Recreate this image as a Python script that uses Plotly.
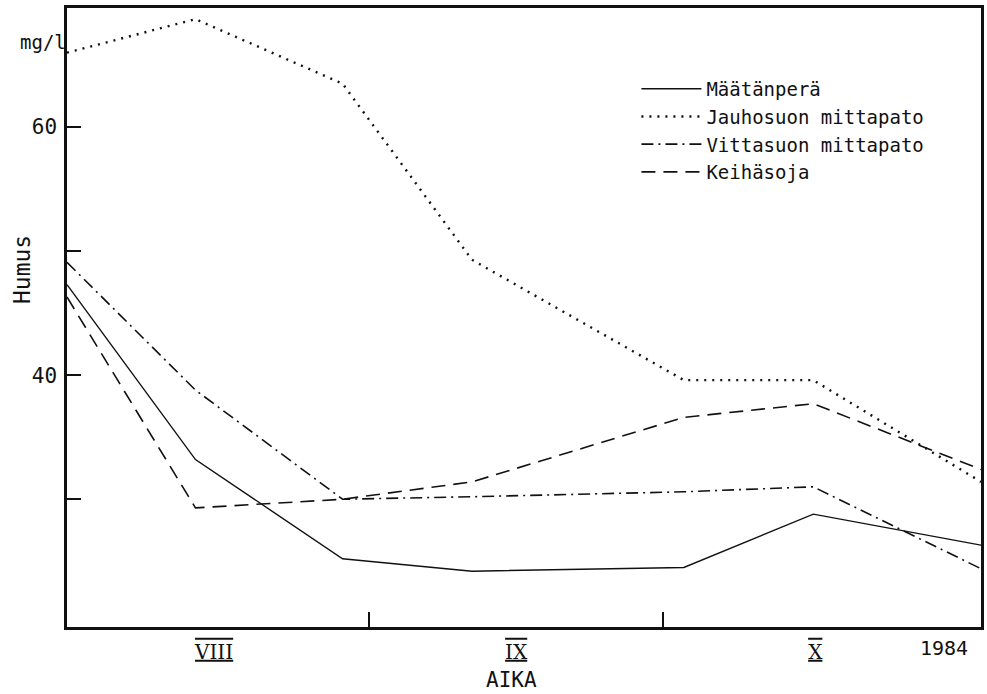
import plotly.graph_objects as go

# day number counted from 1 Aug 1984 (Sep 1 = 31, Oct 1 = 61)
days = [0.2, 13.3, 28.3, 41.5, 63.1, 76.3, 93.4]

maatanpera = [47.3, 33.2, 25.2, 24.2, 24.5, 28.8, 26.3]
jauhosuon = [66.0, 68.7, 63.5, 49.3, 39.6, 39.6, 31.4]
vittasuon = [49.1, 38.8, 30.0, 30.2, 30.6, 31.0, 24.4]
keihasoja = [46.3, 29.3, 30.0, 31.4, 36.6, 37.7, 32.4]

series_names = ["Määtänperä", "Jauhosuon mittapato", "Vittasuon mittapato", "Keihäsoja"]

month_centres = [15.2, 46, 76.5]
month_labels = ["VIII", "IX", "X"]
month_bounds = [31, 61]

y_ticks = [30, 40, 50, 60]
y_ticktext = ["", "40", "", "60"]

FONT = "DejaVu Sans Mono"
INK = "#111111"

fig = go.Figure()
styles = [
    dict(dash="solid", width=1.4),
    dict(dash="2px,6px", width=2.4),
    dict(dash="12px,5px,2px,5px", width=1.6),
    dict(dash="14px,8px", width=1.6),
]
for name, vals, st in zip(series_names, [maatanpera, jauhosuon, vittasuon, keihasoja], styles):
    fig.add_trace(go.Scatter(
        x=days, y=vals, mode="lines", name=name,
        line=dict(color=INK, width=st["width"], dash=st["dash"]),
    ))

roman = [f'<span style="text-decoration:underline"><span style="text-decoration:overline">{t}</span></span>'
         for t in month_labels]

fig.update_layout(
    width=987, height=694,
    margin=dict(l=67, r=3, t=8, b=67),
    paper_bgcolor="white", plot_bgcolor="white",
    font=dict(family=FONT, size=20, color=INK),
    showlegend=True,
    legend=dict(
        x=0.623, y=0.9, xanchor="left", yanchor="top",
        bgcolor="rgba(0,0,0,0)", font=dict(family=FONT, size=19, color=INK),
        tracegroupgap=0, itemwidth=60,
    ),
    xaxis=dict(
        range=[0.2, 93.4], showgrid=False, zeroline=False,
        showline=True, linecolor=INK, linewidth=2.5, mirror=True,
        tickmode="array", tickvals=month_centres, ticktext=roman,
        ticks="", ticklabelstandoff=5,
        tickfont=dict(family="DejaVu Serif", size=20, color=INK),
        minor=dict(tickmode="array", tickvals=month_bounds, ticks="inside",
                   ticklen=15, tickwidth=2, tickcolor=INK, showgrid=False),
    ),
    yaxis=dict(
        range=[19.7, 69.6], showgrid=False, zeroline=False,
        showline=True, linecolor=INK, linewidth=2.5, mirror=True,
        tickmode="array", tickvals=y_ticks, ticktext=y_ticktext,
        ticks="inside", ticklen=14, tickwidth=2, tickcolor=INK,
        ticklabelstandoff=3,
        tickfont=dict(family=FONT, size=21, color=INK),
    ),
)

fig.add_annotation(text="mg/l", xref="paper", yref="paper", x=-0.026, y=0.945,
                   xanchor="center", yanchor="middle",
                   showarrow=False, font=dict(family=FONT, size=19, color=INK))
fig.add_annotation(text="Humus", xref="paper", yref="paper", x=-0.049, y=0.577,
                   xanchor="center", yanchor="middle",
                   textangle=-90, showarrow=False, font=dict(family=FONT, size=23, color=INK))
fig.add_annotation(text="AIKA", xref="paper", yref="paper", x=0.486, y=-0.085,
                   xanchor="center", yanchor="middle",
                   showarrow=False, font=dict(family=FONT, size=21, color=INK))
fig.add_annotation(text="1984", xref="paper", yref="paper", x=0.96, y=-0.034,
                   xanchor="center", yanchor="middle",
                   showarrow=False, font=dict(family=FONT, size=20, color=INK))

fig.write_html("out.html")
